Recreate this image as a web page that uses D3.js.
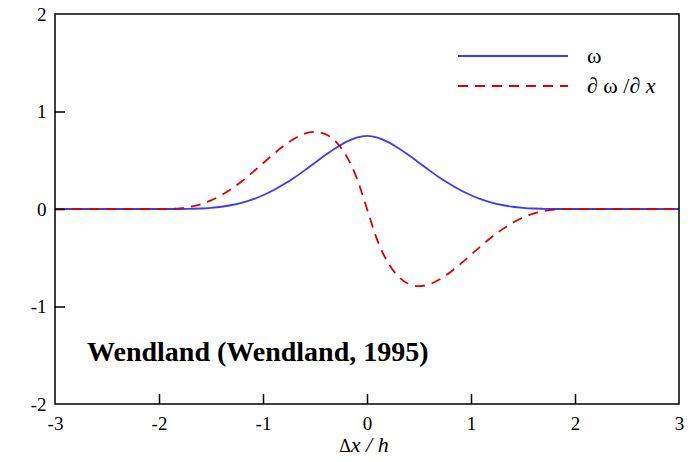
<!DOCTYPE html>
<meta charset="utf-8">
<script src="https://d3js.org/d3.v7.min.js"></script>
<style>
  body { margin: 0; background: #fff; }
  text { font-family: "Liberation Serif", "Times New Roman", serif; }
</style>
<body>
<div id="chart"></div>
<script>
// sample points along dx/h
const xVals = [-3, -2.0, -1.9, -1.8, -1.7, -1.6, -1.5, -1.4, -1.3, -1.2, -1.1, -1.0,
  -0.9, -0.8, -0.7, -0.6, -0.5, -0.4, -0.3, -0.2, -0.1, 0.0,
  0.1, 0.2, 0.3, 0.4, 0.5, 0.6, 0.7, 0.8, 0.9, 1.0,
  1.1, 1.2, 1.3, 1.4, 1.5, 1.6, 1.7, 1.8, 1.9, 2.0, 3];

// kernel value (blue)
const omega = [0, 0, 0.000, 0.000, 0.002, 0.005, 0.012, 0.023, 0.041, 0.065, 0.098, 0.141,
  0.192, 0.253, 0.321, 0.396, 0.475, 0.553, 0.626, 0.689, 0.733, 0.750,
  0.733, 0.689, 0.626, 0.553, 0.475, 0.396, 0.321, 0.253, 0.192, 0.141,
  0.098, 0.065, 0.041, 0.023, 0.012, 0.005, 0.002, 0.000, 0.000, 0, 0];

// kernel derivative (red dashed)
const dOmega = [0, 0, 0.001, 0.007, 0.022, 0.048, 0.088, 0.142, 0.209, 0.288, 0.376, 0.469,
  0.562, 0.648, 0.721, 0.772, 0.791, 0.768, 0.691, 0.547, 0.322, 0.0,
  -0.322, -0.547, -0.691, -0.768, -0.791, -0.772, -0.721, -0.648, -0.562, -0.469,
  -0.376, -0.288, -0.209, -0.142, -0.088, -0.048, -0.022, -0.007, -0.001, 0, 0];

const xTicks = [-3, -2, -1, 0, 1, 2, 3];
const yTicks = [-2, -1, 0, 1, 2];

const W = 691, H = 462;
const margin = {top: 14, right: 12, bottom: 58, left: 55};
const serif = "'Liberation Serif', 'Times New Roman', serif";

const svg = d3.select("#chart").append("svg")
  .attr("width", W).attr("height", H);

const x = d3.scaleLinear().domain([-3, 3]).range([margin.left, W - margin.right]);
const y = d3.scaleLinear().domain([-2, 2]).range([H - margin.bottom, margin.top]);

// curves
const line = d3.line()
  .x(d => x(d[0]))
  .y(d => y(d[1]))
  .curve(d3.curveMonotoneX);

svg.append("path")
  .datum(xVals.map((v, i) => [v, omega[i]]))
  .attr("d", line)
  .attr("fill", "none")
  .attr("stroke", "#3b3bff")
  .attr("stroke-width", 1.8);

svg.append("path")
  .datum(xVals.map((v, i) => [v, dOmega[i]]))
  .attr("d", line)
  .attr("fill", "none")
  .attr("stroke", "#e00000")
  .attr("stroke-width", 1.8)
  .attr("stroke-dasharray", "10,7");

// frame
svg.append("rect")
  .attr("x", x(-3)).attr("y", y(2))
  .attr("width", x(3) - x(-3)).attr("height", y(-2) - y(2))
  .attr("fill", "none").attr("stroke", "#000").attr("stroke-width", 1.5);

// axes with inward ticks, plain hyphen minus like the original
const fmt = d => String(d);
const xAxis = svg.append("g")
  .attr("transform", `translate(0,${y(-2)})`)
  .call(d3.axisBottom(x).tickValues(xTicks).tickSize(-10).tickPadding(16).tickFormat(fmt));
const yAxis = svg.append("g")
  .attr("transform", `translate(${x(-3)},0)`)
  .call(d3.axisLeft(y).tickValues(yTicks).tickSize(-10).tickPadding(16).tickFormat(fmt));

[xAxis, yAxis].forEach(g => {
  g.attr("font-family", serif).attr("font-size", 19);
  g.select(".domain").remove();
  g.selectAll(".tick line").attr("stroke", "#000").attr("stroke-width", 1.5);
  g.selectAll(".tick text").attr("fill", "#000");
});
xAxis.selectAll(".tick text").attr("dy", "0.5em");
yAxis.selectAll(".tick text").attr("dx", "0.4em");
// drop ticks at the corners (frame covers them)
xAxis.selectAll(".tick line").filter(d => d === -3 || d === 3).remove();
yAxis.selectAll(".tick line").filter(d => d === -2 || d === 2).remove();

// x label
const xl = svg.append("text")
  .attr("x", x(0) - 3).attr("y", 452)
  .attr("text-anchor", "middle")
  .style("font-size", "22px");
xl.append("tspan").text("Δ").style("font-size", "18px");
xl.append("tspan").text("x / h").style("font-style", "italic");

// legend
const legend = [
  {label: ["ω"], color: "#3b3bff", dash: null},
  {label: ["∂ ω /∂ ", "x"], color: "#e00000", dash: "10,7"}
];
legend.forEach((d, i) => {
  const ly = 56 + i * 30;
  svg.append("line")
    .attr("x1", 458).attr("x2", 568)
    .attr("y1", ly).attr("y2", ly)
    .attr("stroke", d.color).attr("stroke-width", 1.8)
    .attr("stroke-dasharray", d.dash);
  const t = svg.append("text")
    .attr("x", 587).attr("y", ly + 7)
    .style("font-size", "22px");
  d.label.forEach((s, j) => {
    t.append("tspan").text(s).style("font-style", j === 1 ? "italic" : "normal");
  });
});

// annotation
svg.append("text")
  .attr("x", 87).attr("y", 361)
  .style("font-size", "28px")
  .style("font-weight", "bold")
  .text("Wendland (Wendland, 1995)");
</script>
</body>
